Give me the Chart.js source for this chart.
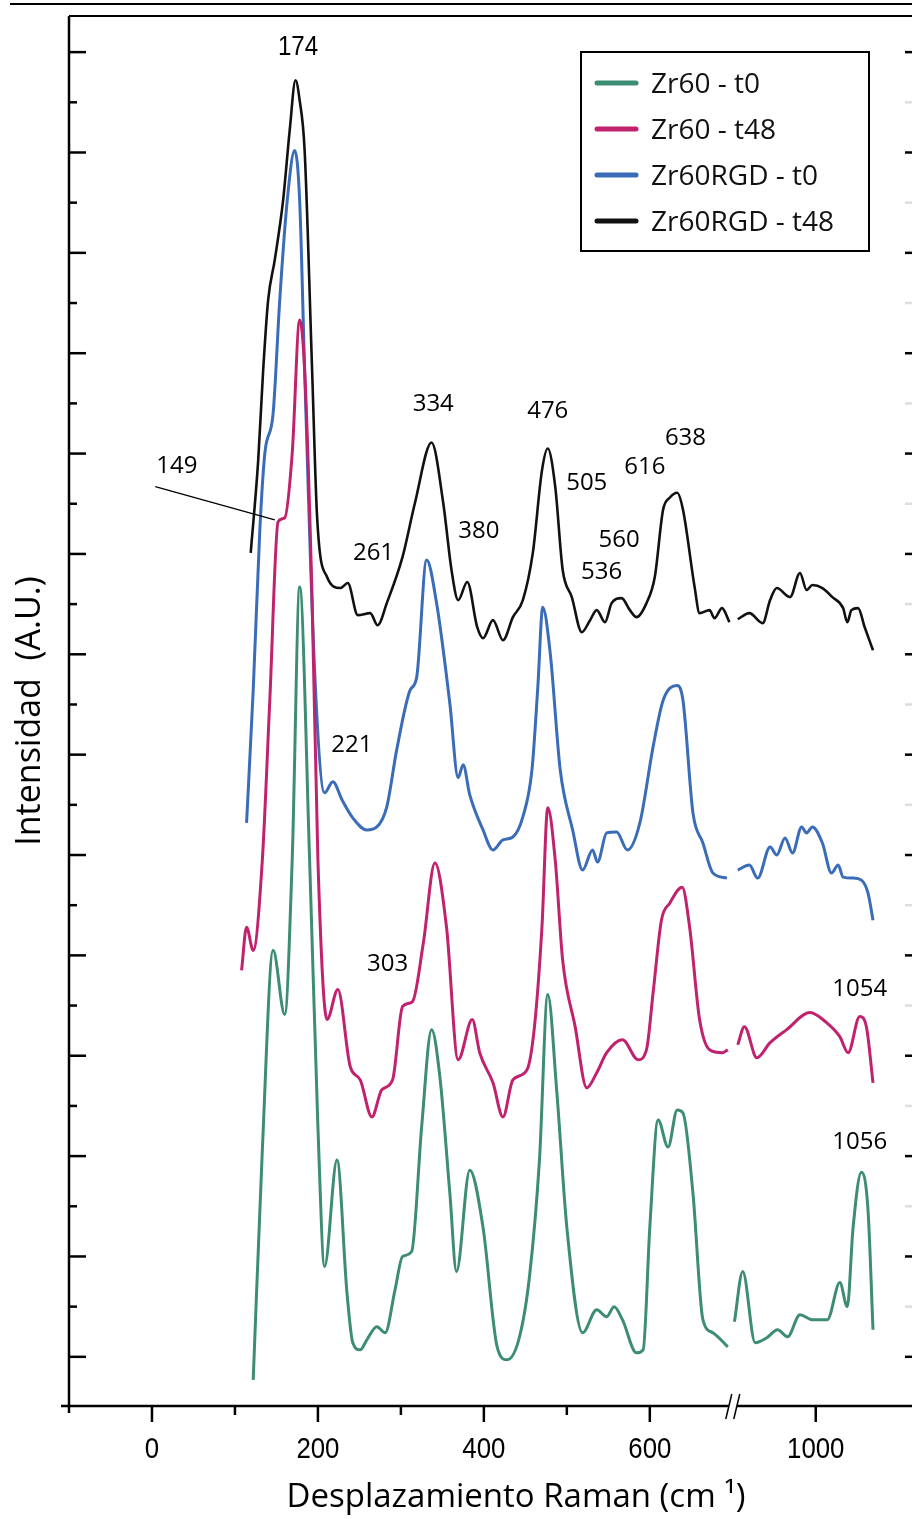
<!DOCTYPE html>
<html>
<head>
<meta charset="utf-8">
<script src="https://cdn.jsdelivr.net/npm/chart.js@4.4.1/dist/chart.umd.min.js"></script>
<style>
  html, body { margin: 0; padding: 0; background: #fff; }
  #wrap { width: 912px; height: 1519px; }
</style>
</head>
<body>
<div id="wrap"><canvas id="grafico" width="912" height="1519"></canvas></div>
<script>
// Desplazamiento Raman (cm-1) e intensidades (A.U., ya desplazadas)
var zr60t0X = [122,133,146,160,169,178,190,200,208,223,235,242,251,259,271,281,293,302,313,325,
  337,347,359,367,383,399,416,428,443,455,467,477,488,500,519,536,548,557,567,584,
  592,600,610,622,633,640,652,664,676,694,
  902,912,927,941,954,966,981,996,1014,1029,1038,1045,1055,1063,1069];
var zr60t0Y = [-0.23,2.06,4.05,3.41,4.95,7.67,4.95,2.29,0.90,1.96,0.64,0.14,0.07,0.17,0.30,0.24,0.67,1.00,1.05,2.29,
  3.26,2.79,1.63,0.85,1.86,1.29,0.10,-0.03,0.20,0.80,1.96,3.61,2.63,1.29,0.24,0.47,0.40,0.50,0.37,0.04,
  0.07,1.29,2.36,2.09,2.46,2.43,1.63,0.37,0.24,0.10,
  0.35,0.85,0.14,0.19,0.27,0.20,0.42,0.37,0.37,0.74,0.50,1.29,1.84,1.46,0.27];

var zr60t48X = [108,114,122,133,142,152,160,169,178,184,193,200,211,224,239,251,265,277,290,302,
  314,327,341,355,369,386,395,411,423,435,452,461,470,477,486,495,510,524,536,548,
  567,586,596,604,614,624,639,648,660,672,688,694,
  906,914,929,945,965,993,1013,1029,1039,1053,1061,1069];
var zr60t48Y = [3.85,4.28,4.05,4.95,6.54,8.32,8.36,9.00,10.33,9.83,7.54,4.95,3.36,3.66,2.89,2.76,2.39,2.66,2.76,3.49,
  3.54,4.12,4.92,4.28,2.96,3.36,3.03,2.73,2.39,2.76,2.86,3.29,4.28,5.47,4.95,3.95,3.29,2.68,2.83,3.03,
  3.16,2.96,3.06,3.63,4.35,4.52,4.68,4.28,3.36,3.06,3.03,3.06,
  3.11,3.29,2.98,3.13,3.26,3.43,3.33,3.19,3.03,3.39,3.29,2.73];

var zr60rgdT0X = [114,122,130,136,146,154,163,172,178,184,196,208,218,229,242,259,271,283,295,311,
  319,331,343,359,369,375,383,399,411,423,435,447,458,465,471,480,492,507,519,531,
  537,548,560,573,588,604,616,633,640,652,664,676,693,
  906,920,930,945,953,963,972,983,989,996,1008,1019,1027,1033,1045,1055,1063,1069];
var zr60rgdT0Y = [5.32,6.64,8.24,9.00,9.40,10.53,11.52,12.02,11.52,9.83,6.84,5.62,5.73,5.55,5.37,5.25,5.28,5.48,6.05,6.64,
  6.77,7.94,7.51,6.51,5.77,5.90,5.60,5.25,5.05,5.15,5.18,5.38,5.85,6.67,7.47,7.01,5.85,5.25,4.85,5.05,
  4.93,5.22,5.23,5.05,5.32,6.08,6.54,6.69,6.54,5.42,5.12,4.82,4.77,
  4.85,4.90,4.77,5.08,5.00,5.17,5.02,5.28,5.22,5.28,5.12,4.82,4.90,4.78,4.77,4.75,4.62,4.35];

var zr60rgdT48X = [119,128,134,140,148,158,166,173,178,184,193,199,211,227,236,248,263,272,283,302,
  317,337,351,361,369,380,392,399,411,423,435,447,459,470,477,486,495,506,518,528,
  536,546,554,566,576,584,596,606,616,624,633,640,654,660,672,678,687,696,
  906,920,936,945,953,969,981,989,996,1008,1020,1033,1038,1043,1051,1059,1069];
var zr60rgdT48Y = [8.01,8.93,9.83,10.53,10.93,11.52,12.22,12.72,12.52,12.02,9.83,8.37,7.77,7.66,7.71,7.39,7.41,7.29,7.51,7.97,
  8.51,9.11,8.51,7.84,7.54,7.72,7.27,7.16,7.34,7.14,7.37,7.54,8.01,8.83,9.05,8.67,7.84,7.57,7.22,7.34,
  7.44,7.32,7.51,7.56,7.44,7.37,7.51,7.77,8.44,8.56,8.61,8.44,7.67,7.41,7.44,7.36,7.46,7.32,
  7.35,7.41,7.31,7.54,7.66,7.57,7.81,7.64,7.69,7.66,7.57,7.46,7.32,7.44,7.46,7.27,7.04];

var series = ['Zr60 - t0', 'Zr60 - t48', 'Zr60RGD - t0', 'Zr60RGD - t48'];
var colores = ['#3d8c74', '#c0226e', '#3a6cb7', '#111111'];

// etiquetas de picos: texto, cm-1, altura
var picosTexto = ['174','149','334','476','638','616','505','380','261','560','536','221','303','1054','1056'];
var picosX = [176, 30, 339, 477, 643, 594, 524, 394, 267, 563, 542, 241, 284, 1053, 1053];
var picosY = [13.05, 8.87, 9.49, 9.42, 9.15, 8.86, 8.71, 8.23, 8.01, 8.14, 7.82, 6.09, 3.91, 3.66, 2.14];

// eje x con corte
var xTicks = [0, 200, 400, 600, 1000];
var xMinor = [100, 300, 500];
var CORTE = 700;       // posicion del corte en el eje
var SALTO = 200;       // cm-1 omitidos despues del corte

function ejeX(v) { return v > CORTE ? v - SALTO : v; }

function puntos(xs, ys) {
    var out = [];
    for (var i = 0; i < xs.length; i++) {
        if (i > 0 && xs[i - 1] < CORTE && xs[i] > CORTE) out.push({x: CORTE, y: null});
        out.push({x: ejeX(xs[i]), y: ys[i]});
    }
    return out;
}

var datos = [
    puntos(zr60t0X, zr60t0Y),
    puntos(zr60t48X, zr60t48Y),
    puntos(zr60rgdT0X, zr60rgdT0Y),
    puntos(zr60rgdT48X, zr60rgdT48Y)
];

var fuente = '"Open Sans", "DejaVu Sans", sans-serif';
var fuenteEstrecha = '"Liberation Sans", Arial, sans-serif';

// texto "estrecho": Liberation Sans comprimido en horizontal
function textoEstrecho(ctx, txt, x, y, size, escala) {
    ctx.save();
    ctx.font = size + 'px ' + fuenteEstrecha;
    ctx.translate(x, y);
    ctx.scale(escala, 1);
    ctx.fillText(txt, 0, 0);
    ctx.restore();
}

var marcos = {
    id: 'marcos',
    afterDraw: function(chart) {
        var ctx = chart.ctx;
        var xs = chart.scales.x, ys = chart.scales.y;
        var a = chart.chartArea;
        ctx.save();
        ctx.strokeStyle = '#000';
        ctx.fillStyle = '#000';

        // linea superior de pagina y marco
        ctx.lineWidth = 2;
        ctx.beginPath();
        ctx.moveTo(10, 4); ctx.lineTo(912, 4);
        ctx.moveTo(a.left, a.top); ctx.lineTo(a.right, a.top);
        ctx.stroke();

        // eje y
        ctx.lineWidth = 2.5;
        ctx.beginPath();
        ctx.moveTo(a.left, a.top); ctx.lineTo(a.left, a.bottom + 7);
        ctx.stroke();

        // eje x con corte
        var pc = xs.getPixelForValue(CORTE);
        ctx.beginPath();
        ctx.moveTo(a.left - 8, a.bottom); ctx.lineTo(pc - 4, a.bottom);
        ctx.moveTo(pc + 4, a.bottom); ctx.lineTo(a.right, a.bottom);
        ctx.stroke();
        ctx.lineWidth = 1.5;
        ctx.beginPath();
        ctx.moveTo(pc - 7, a.bottom + 13); ctx.lineTo(pc - 1, a.bottom - 12);
        ctx.moveTo(pc + 1, a.bottom + 13); ctx.lineTo(pc + 7, a.bottom - 12);
        ctx.stroke();

        // marcas eje y
        ctx.lineWidth = 2.5;
        for (var k = 0; k <= 26; k++) {
            var py = ys.getPixelForValue(k / 2);
            var largo = (k % 2 === 0) ? 17 : 8;
            ctx.beginPath();
            ctx.moveTo(a.left, py); ctx.lineTo(a.left + largo, py);
            ctx.stroke();
            ctx.strokeStyle = (k % 2 === 0) ? '#000' : '#ddd';
            ctx.beginPath();
            ctx.moveTo(a.right, py); ctx.lineTo(a.right - 7, py);
            ctx.stroke();
            ctx.strokeStyle = '#000';
        }

        // marcas eje x
        xTicks.forEach(function(t) {
            var px = xs.getPixelForValue(ejeX(t));
            ctx.beginPath(); ctx.moveTo(px, a.bottom); ctx.lineTo(px, a.bottom + 16); ctx.stroke();
        });
        xMinor.forEach(function(t) {
            var px = xs.getPixelForValue(ejeX(t));
            ctx.beginPath(); ctx.moveTo(px, a.bottom); ctx.lineTo(px, a.bottom + 9); ctx.stroke();
        });

        // etiquetas eje x
        ctx.textAlign = 'center';
        ctx.textBaseline = 'middle';
        xTicks.forEach(function(t) {
            textoEstrecho(ctx, String(t), xs.getPixelForValue(ejeX(t)), a.bottom + 44, 30, 0.86);
        });

        // titulos de ejes
        ctx.font = '33px ' + fuente;
        ctx.fillText('Desplazamiento Raman (cm \u00B9)', 516, 1498);
        ctx.save();
        ctx.font = '34px ' + fuente;
        ctx.translate(30, (a.top + a.bottom) / 2);
        ctx.rotate(-Math.PI / 2);
        ctx.fillText('Intensidad  (A.U.)', 0, 0);
        ctx.restore();

        // etiquetas de picos
        for (var i = 0; i < picosTexto.length; i++) {
            var px2 = xs.getPixelForValue(ejeX(picosX[i]));
            var py2 = ys.getPixelForValue(picosY[i]);
            if (i === 0) {
                textoEstrecho(ctx, picosTexto[i], px2, py2, 28, 0.86);
            } else {
                ctx.font = '24px ' + fuente;
                ctx.fillText(picosTexto[i], px2, py2);
            }
        }
        // guia del pico 149
        ctx.lineWidth = 1.3;
        ctx.beginPath();
        ctx.moveTo(xs.getPixelForValue(4), ys.getPixelForValue(8.67));
        ctx.lineTo(xs.getPixelForValue(148), ys.getPixelForValue(8.34));
        ctx.stroke();

        // leyenda
        ctx.lineWidth = 2;
        ctx.strokeRect(581, 52, 288, 199);
        ctx.font = '28px ' + fuente;
        ctx.textAlign = 'left';
        chart.data.datasets.forEach(function(ds, j) {
            var ly = 83 + j * 46;
            ctx.strokeStyle = ds.borderColor;
            ctx.lineWidth = 5;
            ctx.lineCap = 'round';
            ctx.beginPath(); ctx.moveTo(597, ly); ctx.lineTo(636, ly); ctx.stroke();
            ctx.fillStyle = '#111';
            ctx.fillText(ds.label, 651, ly + 2);
        });
        ctx.restore();
    }
};

var config = {
    type: 'line',
    data: {
        datasets: series.map(function(nombre, j) {
            return {
                label: nombre,
                data: datos[j],
                borderColor: colores[j],
                borderWidth: j === 3 ? 2.6 : 3,
                pointRadius: 0,
                fill: false,
                spanGaps: false,
                cubicInterpolationMode: 'monotone'
            };
        })
    },
    options: {
        responsive: false,
        animation: false,
        layout: { padding: { left: 69, top: 16, right: 0, bottom: 113 } },
        scales: {
            x: { type: 'linear', min: -100, max: 916, display: false },
            y: { min: -0.49, max: 13.36, display: false }
        },
        plugins: {
            legend: { display: false },
            tooltip: { enabled: false }
        }
    },
    plugins: [marcos]
};

var grafico = new Chart(document.getElementById('grafico'), config);
</script>
</body>
</html>
